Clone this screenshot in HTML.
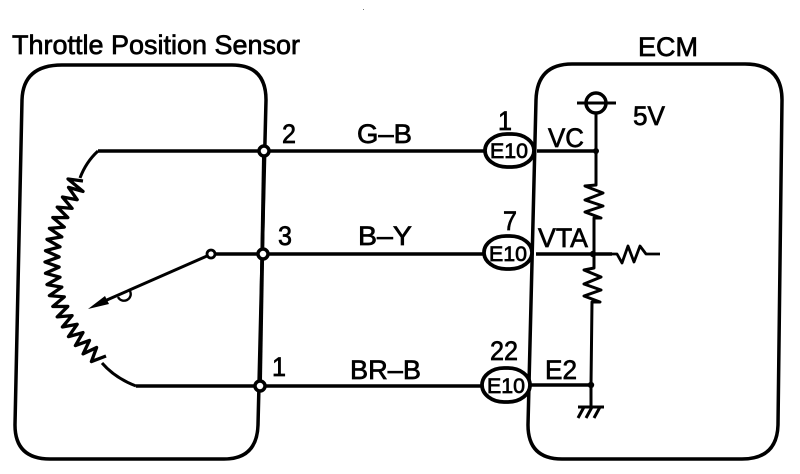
<!DOCTYPE html>
<html><head><meta charset="utf-8"><style>
html,body{margin:0;padding:0;background:#fff}
svg{display:block}
text{font-family:"Liberation Sans",sans-serif;fill:#000;stroke:#000;stroke-width:.7px;font-size:27px}
</style></head><body>
<svg width="800" height="474" viewBox="0 0 800 474" xmlns="http://www.w3.org/2000/svg">
<g fill="none" stroke="#000" stroke-width="3.500" stroke-linejoin="round">
<path d="M62 65H232Q266 65 266 100L258 425Q257 459 224 459H50Q15 459 15 425L22 100Q23 65 62 65Z"/>
<path d="M572 64H745Q782 64 782 100L778 425Q777 459 742 459H562Q528 459 528 425L536 100Q537 64 572 64Z"/>
<path d="M98 151H485M216 254H484M136 386H482M537 151H596M536 254H612M530 385H591"/>
<path d="M264 151L260 386" stroke-width="3.800"/>
<path d="M98 151Q86 162 80 178M102 363Q115 378 136 386" stroke-width="3"/>
<path stroke-width="3.300" d="M83 181L68 179L83 191.4L68.500 187.400L77.200 199.700L62.400 197L72.100 208.400L57.200 207.100L67.800 217.600L52.800 217.500L64.300 227.100L49.400 228.400L61.800 236.900L47 239.400L60 246.800L45.500 250.700L59.100 256.900L45 262L59.100 267.100L45.500 273.300L60 277.200L47 284.600L61.800 287.100L49.400 295.600L64.300 296.900L52.800 306.500L67.800 306.400L57.200 316.900L72.100 315.600L62.400 327L77.200 324.300L68.500 336.600L83 332.600L75.400 345.600L89.500 340.400L83.100 353.900L96.600 347.500L91.400 361.600L106 356"/>
<path d="M207 256L100 303" stroke-width="3"/>
<path d="M118 297A6 6 0 0 0 130 291" stroke-width="2.400"/>
<circle cx="596" cy="103" r="10"/>
<path d="M577 103H616M596 113V185L585 186L603 193L585 200L603 206L585 212L601 218H594V254V268L584 270L601 277L584 284L601 290L584 296L600 302H592L591 385V407M578 407H604M584 407L578 418M592 407L586 418M600 407L594 418" stroke-width="3"/>
<path d="M612 254H617L622 263L628 246L634 262L640 246L646 254H660" stroke-width="2.800"/>
<rect x="485" y="134" width="49" height="33" rx="22" ry="16.500" fill="#fff" stroke-width="3.800"/>
<rect x="484" y="236" width="48" height="33" rx="22" ry="16.500" fill="#fff" stroke-width="3.800"/>
<rect x="482" y="368" width="48" height="34" rx="22" ry="17" fill="#fff" stroke-width="3.800"/>
<circle cx="264" cy="151" r="5" fill="#fff"/>
<circle cx="263" cy="254" r="5" fill="#fff"/>
<circle cx="260" cy="386" r="5" fill="#fff"/>
<circle cx="211" cy="254" r="4" fill="#fff" stroke-width="2.800"/>
</g>
<path d="M88 309L105 296L109 304Z" fill="#000"/>
<circle cx="596" cy="151" r="3" fill="#000"/>
<circle cx="593" cy="254" r="3.200" fill="#000"/>
<circle cx="591" cy="385" r="3.200" fill="#000"/>
<rect x="363" y="9" width="1" height="1" fill="#777"/>
<text x="12" y="54" textLength="288" lengthAdjust="spacingAndGlyphs">Throttle Position Sensor</text>
<text x="638" y="56" textLength="60" lengthAdjust="spacingAndGlyphs">ECM</text>
<text x="282" y="143" textLength="14" lengthAdjust="spacingAndGlyphs">2</text>
<text x="357" y="143" textLength="55" lengthAdjust="spacingAndGlyphs">G–B</text>
<text x="278" y="245" textLength="14" lengthAdjust="spacingAndGlyphs">3</text>
<text x="358" y="245" textLength="54" lengthAdjust="spacingAndGlyphs">B–Y</text>
<text x="272" y="376" textLength="14" lengthAdjust="spacingAndGlyphs">1</text>
<text x="350" y="379" textLength="71" lengthAdjust="spacingAndGlyphs">BR–B</text>
<text x="498" y="130" textLength="14" lengthAdjust="spacingAndGlyphs">1</text>
<text x="503" y="230" textLength="14" lengthAdjust="spacingAndGlyphs">7</text>
<text x="490" y="360" textLength="28" lengthAdjust="spacingAndGlyphs">22</text>
<text x="548" y="147" textLength="36" lengthAdjust="spacingAndGlyphs">VC</text>
<text x="538" y="247" textLength="50" lengthAdjust="spacingAndGlyphs">VTA</text>
<text x="545" y="379" textLength="32" lengthAdjust="spacingAndGlyphs">E2</text>
<text x="633" y="125" textLength="32" lengthAdjust="spacingAndGlyphs">5V</text>
<text x="490" y="158" style="font-size:21px" textLength="38" lengthAdjust="spacingAndGlyphs">E10</text>
<text x="489" y="261" style="font-size:21px" textLength="38" lengthAdjust="spacingAndGlyphs">E10</text>
<text x="487" y="393" style="font-size:21px" textLength="38" lengthAdjust="spacingAndGlyphs">E10</text>
</svg>
</body></html>
